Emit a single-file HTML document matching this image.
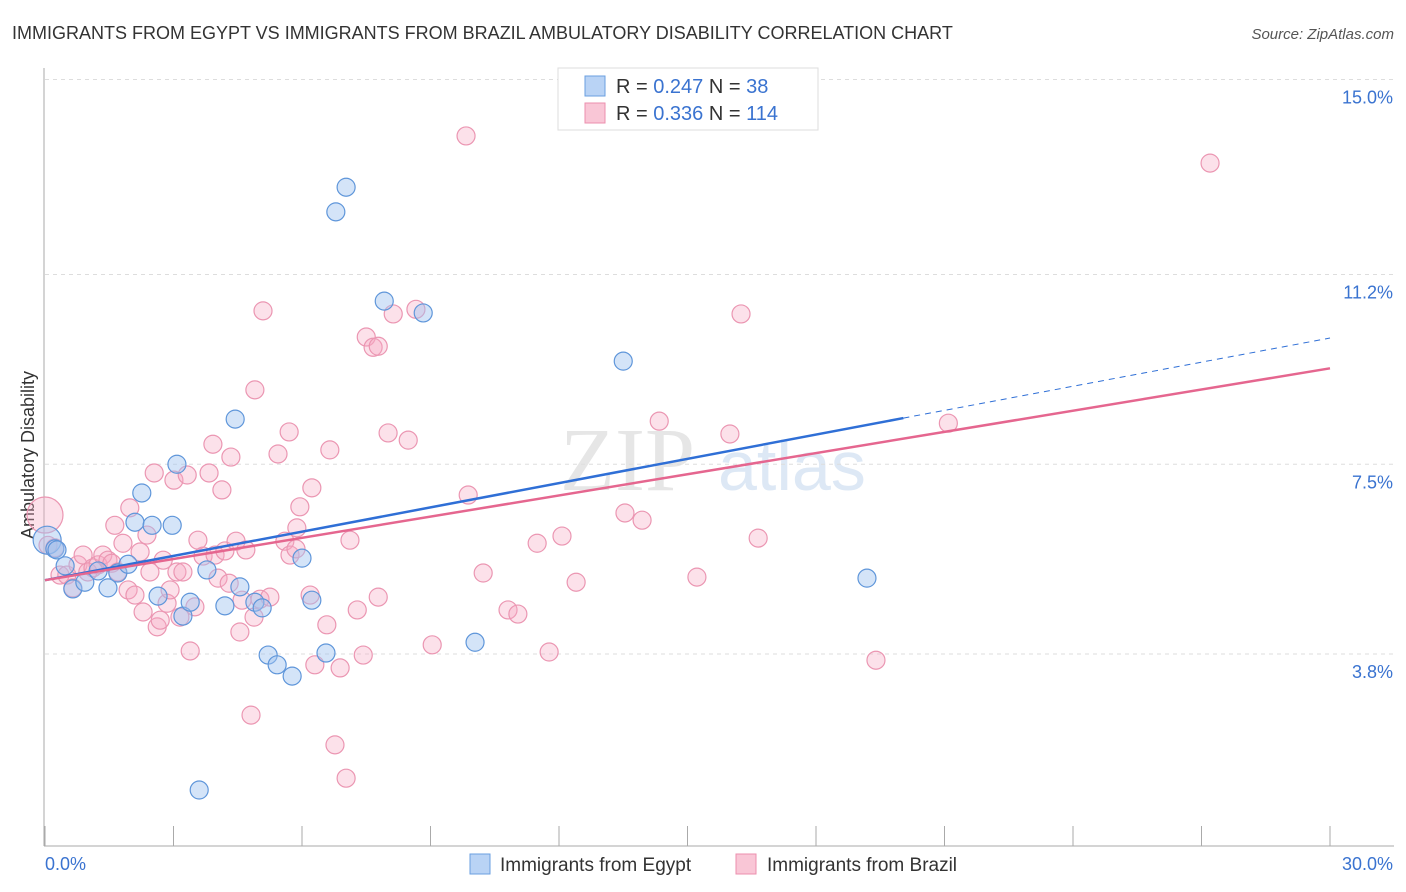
<!DOCTYPE html>
<html><head><meta charset="utf-8"><style>
body{margin:0;background:#fff;font-family:"Liberation Sans",sans-serif;}
svg{display:block}
</style></head><body>
<svg id="chart" width="1406" height="892">
<text x="12" y="39" font-size="18" fill="#333">IMMIGRANTS FROM EGYPT VS IMMIGRANTS FROM BRAZIL AMBULATORY DISABILITY CORRELATION CHART</text>
<text x="1394" y="39" font-size="15" fill="#555" font-style="italic" text-anchor="end">Source: ZipAtlas.com</text>
<text x="560" y="490" font-size="90" fill="#e6e6e6" font-family="Liberation Serif">ZIP</text>
<text x="718" y="490" font-size="70" fill="#dde8f5">atlas</text>
<text transform="translate(34,455) rotate(-90)" font-size="18" fill="#333" text-anchor="middle">Ambulatory Disability</text>
<g id="grid"></g><g id="marks"></g>
<g>
<rect x="558" y="68" width="260" height="62" fill="#fff" stroke="#ddd"/>
<rect x="585" y="76" width="20" height="20" fill="#b9d3f5" stroke="#6a9fe0"/>
<rect x="585" y="103" width="20" height="20" fill="#f9c6d6" stroke="#ec8fae"/>
<text x="616" y="93" font-size="20" fill="#333">R = <tspan fill="#3a73d0">0.247</tspan>   N =  <tspan fill="#3a73d0">38</tspan></text>
<text x="616" y="120" font-size="20" fill="#333">R = <tspan fill="#3a73d0">0.336</tspan>   N = <tspan fill="#3a73d0">114</tspan></text>
</g>
<g>
<rect x="470" y="854" width="20" height="20" fill="#b9d3f5" stroke="#6a9fe0"/>
<text x="500" y="871" font-size="19" fill="#333">Immigrants from Egypt</text>
<rect x="736" y="854" width="20" height="20" fill="#f9c6d6" stroke="#ec8fae"/>
<text x="767" y="871" font-size="19" fill="#333">Immigrants from Brazil</text>
</g>
</svg>
<script>
const yTicks=[3.8,7.5,11.2,15.0];
const yTickLabels=["3.8%","7.5%","11.2%","15.0%"];
const xTickLabels=["0.0%","30.0%"];
const egyptX=[0.05,0.23,0.28,0.47,0.65,0.93,1.24,1.47,1.70,1.94,2.10,2.26,2.50,2.64,2.97,3.08,3.22,3.39,3.78,4.20,4.44,4.55,4.90,5.07,5.21,5.42,5.77,6.00,6.23,6.56,6.79,7.03,7.92,8.83,10.04,13.50,19.19,3.60];
const egyptY=[6.02,5.85,5.83,5.52,5.07,5.20,5.42,5.09,5.38,5.55,6.37,6.94,6.31,4.93,6.31,7.50,4.54,4.81,5.44,4.74,8.38,5.11,4.81,4.70,3.78,3.59,3.37,5.67,4.85,3.82,12.42,12.90,10.68,10.45,4.03,9.51,5.28,1.15];
const brazilX=[0,0.07,0.23,0.35,0.51,0.65,0.77,0.89,1.00,1.12,1.24,1.35,1.47,1.56,1.70,1.63,1.82,1.94,1.98,2.10,2.22,2.29,2.38,2.45,2.55,2.62,2.69,2.76,2.85,2.92,3.01,3.08,3.15,3.22,3.32,3.39,3.50,3.57,3.69,3.83,3.92,3.97,4.04,4.13,4.20,4.30,4.34,4.46,4.55,4.60,4.69,4.81,4.88,4.90,5.02,5.09,5.25,5.44,5.60,5.70,5.72,5.86,5.95,5.88,6.19,6.23,6.30,6.58,6.65,6.77,6.89,7.03,7.12,7.29,7.43,7.50,7.66,7.78,7.78,8.01,8.13,8.48,8.66,9.04,9.83,9.88,10.23,10.81,11.04,11.49,11.77,12.07,12.40,13.54,13.94,14.34,15.22,15.99,16.25,16.65,19.40,21.09,27.20];
const brazilY=[6.51,5.92,5.87,5.34,5.34,5.09,5.54,5.73,5.40,5.48,5.54,5.73,5.63,5.57,5.40,6.31,5.96,5.05,6.65,4.95,5.79,4.62,6.12,5.40,7.33,4.33,4.46,5.63,4.79,5.05,7.19,5.40,4.52,5.40,7.29,3.86,4.72,6.02,5.71,7.33,7.89,5.73,5.28,7.00,5.81,5.18,7.64,6.00,4.23,4.85,5.83,2.61,4.52,8.95,4.87,10.49,4.91,7.70,6.00,8.13,5.73,5.85,6.67,6.26,4.95,7.04,3.59,4.37,7.78,2.03,3.53,1.38,6.02,4.66,3.78,9.98,9.78,9.80,4.91,8.11,10.43,7.97,10.52,3.98,13.90,6.90,5.38,4.66,4.58,5.96,3.84,6.10,5.20,6.55,6.41,8.34,5.30,8.09,10.43,6.06,3.68,8.30,13.37];
const egyptTrend=[5.24,8.40,9.96]; // at x=0, x=20.04 (solid end), x=30
const brazilTrend=[5.24,9.37]; // at x=0, x=30
const X0=45,X1=1330,YB=849,YS=51.3;
const sx=v=>X0+(X1-X0)*v/30, sy=v=>YB-v*YS;
const NS="http://www.w3.org/2000/svg";
function mk(tag,attrs,parent){const e=document.createElementNS(NS,tag);for(const k in attrs)e.setAttribute(k,attrs[k]);parent.appendChild(e);return e;}
const grid=document.getElementById('grid'),marks=document.getElementById('marks');
yTicks.forEach((t,i)=>{
 const g=mk('line',{x1:45,x2:1394,y1:sy(t),y2:sy(t),stroke:'#ddd','stroke-dasharray':'4,4'},grid);
 
 
 const l=mk('text',{x:1393,y:sy(t)+24,'font-size':18,fill:'#3a73d0','text-anchor':'end'},grid);
 l.textContent=yTickLabels[i];
 
 
});
const ax=mk('line',{x1:44,x2:44,y1:68,y2:846,stroke:'#aaa'},grid);


const bx=mk('line',{x1:44,x2:1394,y1:846,y2:846,stroke:'#aaa'},grid);


for(let i=0;i<=10;i++){const tk=mk('line',{x1:sx(i*3),x2:sx(i*3),y1:826,y2:846,stroke:'#aaa'},grid);
 
 }
[[0,'start',45],[1,'end',1393]].forEach(([i,a,x])=>{const t=mk('text',{x:x,y:870,'font-size':18,fill:'#3a73d0','text-anchor':a},grid);t.textContent=xTickLabels[i];
 
 });
brazilX.forEach((x,i)=>{const c=mk('circle',{cx:sx(x),cy:sy(brazilY[i]),r:i==0?18:9,fill:'rgba(246,170,196,0.35)',stroke:'#eb96b2','stroke-width':1.2},marks);
 
 });
egyptX.forEach((x,i)=>{const c=mk('circle',{cx:sx(x),cy:sy(egyptY[i]),r:i==0?14:9,fill:'rgba(160,196,240,0.45)',stroke:'#5f96da','stroke-width':1.2},marks);
 
 });
let l1=mk('line',{x1:sx(0),y1:sy(egyptTrend[0]),x2:sx(20.04),y2:sy(egyptTrend[1]),stroke:'#2f6fd6','stroke-width':2.5},marks);


let l2=mk('line',{x1:sx(20.04),y1:sy(egyptTrend[1]),x2:sx(30),y2:sy(egyptTrend[2]),stroke:'#2f6fd6','stroke-width':1,'stroke-dasharray':'6,5'},marks);


let l3=mk('line',{x1:sx(0),y1:sy(brazilTrend[0]),x2:sx(30),y2:sy(brazilTrend[1]),stroke:'#e5668f','stroke-width':2.5},marks);


</script>
</body></html>
